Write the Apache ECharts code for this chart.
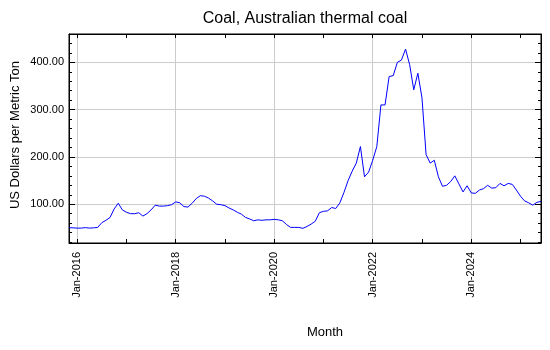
<!DOCTYPE html>
<html>
<head>
<meta charset="utf-8">
<script src="https://cdn.jsdelivr.net/npm/echarts@6/dist/echarts.min.js"></script>
<style>
  html, body { margin: 0; padding: 0; background: #ffffff; }
  #chart { width: 550px; height: 350px; }
</style>
</head>
<body>
<div id="chart"></div>
<script>
// Monthly series, Nov 2015 – Jun 2025
const startYear = 2015;
const startMonth = 10; // November (0-based)
const monthAbbr = ['Jan','Feb','Mar','Apr','May','Jun','Jul','Aug','Sep','Oct','Nov','Dec'];

const prices2015 = [50.5, 50];
const prices2016 = [49.5, 49.5, 50.5, 49.5, 50, 51, 61, 66, 72, 90, 102, 88];
const prices2017 = [83, 80, 80, 82, 75, 80, 88, 98, 96, 96, 97, 99];
const prices2018 = [105, 103, 95, 94, 102, 112, 118, 117, 113, 107, 100, 99];
const prices2019 = [97, 92, 88, 83, 79, 72, 69, 65, 67, 66, 67, 67];
const prices2020 = [68, 67, 65, 57, 51, 51, 51, 49, 53, 58, 64, 82];
const prices2021 = [85, 86, 93, 91, 103, 125, 150, 170, 187, 222, 158, 168];
const prices2022 = [193, 222, 310, 310, 370, 372, 400, 405, 428, 395, 342, 377];
const prices2023 = [325, 205, 187, 193, 158, 138, 140, 148, 160, 143, 126, 139];
const prices2024 = [124, 123, 130, 133, 140, 134, 135, 144, 139, 144, 142, 130];
const prices2025 = [117, 107, 103, 98, 104, 106];

const prices = [].concat(prices2015, prices2016, prices2017, prices2018, prices2019,
  prices2020, prices2021, prices2022, prices2023, prices2024, prices2025);

// Category labels such as "Jan-2016"
const months = prices.map(function (_, i) {
  const m = (startMonth + i) % 12;
  const y = startYear + Math.floor((startMonth + i) / 12);
  return monthAbbr[m] + '-' + y;
});

const FONT = '"Liberation Sans", Arial, Helvetica, sans-serif';
const isJan = function (i, v) { return v.indexOf('Jan') === 0; };
const isEvenJan = function (i, v) {
  return v.indexOf('Jan') === 0 && parseInt(v.slice(4), 10) % 2 === 0;
};

const chart = echarts.init(document.getElementById('chart'), null, { renderer: 'canvas' });

const gridLine = { show: true, lineStyle: { color: '#cccccc', width: 1 } };

chart.setOption({
  animation: false,
  backgroundColor: '#ffffff',
  grid: {
    left: 69, right: 9, top: 34, bottom: 107,
    show: true, borderColor: '#000000', borderWidth: 1, containLabel: false
  },
  xAxis: [{
    type: 'category',
    data: months,
    boundaryGap: false,
    position: 'bottom',
    axisLine: { show: true, onZero: false, lineStyle: { color: '#000000', width: 1 } },
    axisTick: { show: true, inside: true, length: 4, interval: isJan, lineStyle: { color: '#000000' } },
    axisLabel: {
      interval: isEvenJan, rotate: 90, margin: 9,
      color: '#000000', fontSize: 11, fontFamily: FONT
    },
    splitLine: { show: true, interval: isEvenJan, lineStyle: { color: '#cccccc', width: 1 } }
  }, {
    type: 'category',
    data: months,
    boundaryGap: false,
    position: 'top',
    axisLine: { show: true, onZero: false, lineStyle: { color: '#000000', width: 1 } },
    axisTick: { show: true, inside: true, length: 4, interval: isJan, lineStyle: { color: '#000000' } },
    axisLabel: { show: false },
    splitLine: { show: false }
  }],
  yAxis: [{
    type: 'value',
    min: 18, max: 460, splitNumber: 5,
    position: 'left',
    axisLine: { show: true, onZero: false, lineStyle: { color: '#000000', width: 1 } },
    axisTick: { show: true, inside: true, length: 6, lineStyle: { color: '#000000' } },
    minorTick: { show: true, splitNumber: 5, length: 3, lineStyle: { color: '#000000' } },
    axisLabel: {
      showMinLabel: false, showMaxLabel: false, margin: 5,
      color: '#000000', fontSize: 11, fontFamily: FONT,
      formatter: function (v) { return v.toFixed(2); }
    },
    splitLine: gridLine
  }, {
    type: 'value',
    min: 18, max: 460, splitNumber: 5,
    position: 'right',
    axisLine: { show: true, onZero: false, lineStyle: { color: '#000000', width: 1 } },
    axisTick: { show: true, inside: true, length: 6, lineStyle: { color: '#000000' } },
    minorTick: { show: true, splitNumber: 5, length: 3, lineStyle: { color: '#000000' } },
    axisLabel: { show: false },
    splitLine: { show: false }
  }],
  series: [{
    type: 'line',
    data: prices,
    xAxisIndex: 0,
    yAxisIndex: 0,
    showSymbol: false,
    symbol: 'none',
    lineStyle: { color: '#0000ff', width: 1 },
    silent: true
  }],
  graphic: [{
    type: 'text', x: 305, y: 19,
    style: {
      text: 'Coal, Australian thermal coal', fill: '#000000',
      font: '16px ' + FONT, textAlign: 'center', textVerticalAlign: 'middle',
      align: 'center', verticalAlign: 'middle'
    }
  }, {
    type: 'text', x: 15, y: 135, rotation: Math.PI / 2,
    style: {
      text: 'US Dollars per Metric Ton', fill: '#000000',
      font: '13px ' + FONT, textAlign: 'center', textVerticalAlign: 'middle',
      align: 'center', verticalAlign: 'middle'
    }
  }, {
    type: 'text', x: 325, y: 332,
    style: {
      text: 'Month', fill: '#000000',
      font: '13px ' + FONT, textAlign: 'center', textVerticalAlign: 'middle',
      align: 'center', verticalAlign: 'middle'
    }
  }]
});
</script>
</body>
</html>
